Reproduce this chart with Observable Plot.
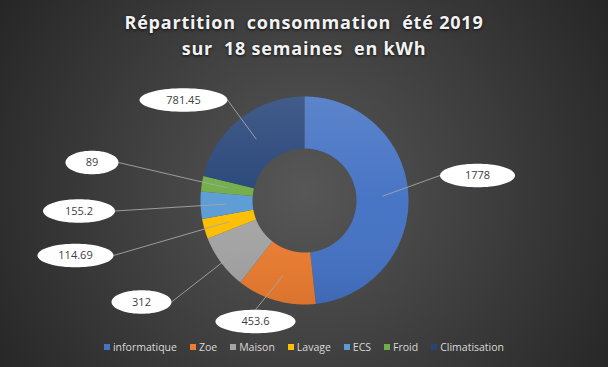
<!DOCTYPE html>
<html><head><meta charset="utf-8">
<script src="https://cdn.jsdelivr.net/npm/d3@7"></script>
<script src="https://cdn.jsdelivr.net/npm/@observablehq/plot@0.6"></script>
<style>
html,body{margin:0;padding:0;background:#262626;}
#wrap{position:relative;width:608px;height:367px;overflow:hidden;background:radial-gradient(circle farthest-corner at 50% 52%, #575757 0%, #262626 100%);font-family:"Open Sans",sans-serif;}
#chart{position:absolute;left:0;top:0;}
#title{position:absolute;left:0;top:9px;width:608px;text-align:center;color:#f2f2f2;font-weight:700;font-size:18px;line-height:26px;white-space:pre;letter-spacing:0.8px;text-shadow:0 1px 3px rgba(0,0,0,0.8);}
#legend{position:absolute;left:0;top:339px;width:608px;height:16px;display:flex;justify-content:center;align-items:center;gap:13px;color:#d9d9d9;font-size:10.5px;}
.item{display:flex;align-items:center;gap:3px;}
.sw{width:6px;height:6px;display:inline-block;}
</style></head><body>
<div id="wrap"><div id="chart"></div><div id="title"></div><div id="legend"></div></div>
<script>
// ---- data ----
const categories = ["informatique", "Zoe", "Maison", "Lavage", "ECS", "Froid", "Climatisation"];
const values = [1778, 453.6, 312, 114.69, 155.2, 89, 781.45];
const valueLabels = ["1778", "453.6", "312", "114.69", "155.2", "89", "781.45"];
const colors = ["#4472C4", "#ED7D31", "#A5A5A5", "#FFC000", "#5B9BD5", "#70AD47", "#264478"];
const titleLines = ["Répartition  consommation  été 2019", "sur  18 semaines  en kWh"];

// ---- layout ----
const W = 608, H = 367, CX = 304, CY = 200, R = 104, INNER = 0.5;
// label box centres as pixel offsets from the donut centre (y up), ellipse half-widths in px
const labelLayout = [
  {dx: 173, dy: 25, rx: 37.5},
  {dx: -49, dy: -121, rx: 40},
  {dx: -163, dy: -101.5, rx: 30},
  {dx: -229, dy: -55, rx: 38},
  {dx: -225.5, dy: -10.5, rx: 36},
  {dx: -212.5, dy: 38, rx: 26.5},
  {dx: -121, dy: 100.5, rx: 44}
];
const RY = 11.8;

const data = categories.map((name, i) => ({name, value: values[i], label: valueLabels[i]}));
const arcs = d3.pie().sort(null).value(d => d.value)(data);

const slicePts = [];
for (const a of arcs) {
  const n = Math.max(4, Math.ceil((a.endAngle - a.startAngle) / 0.01));
  for (let k = 0; k <= n; k++) {
    const t = a.startAngle + (a.endAngle - a.startAngle) * k / n;
    slicePts.push({name: a.data.name, x: Math.sin(t), y: Math.cos(t)});
  }
  for (let k = n; k >= 0; k--) {
    const t = a.startAngle + (a.endAngle - a.startAngle) * k / n;
    slicePts.push({name: a.data.name, x: INNER * Math.sin(t), y: INNER * Math.cos(t)});
  }
}

const labels = arcs.map((a, i) => {
  const L = labelLayout[i];
  const mid = (a.startAngle + a.endAngle) / 2;
  const sx = 0.75 * Math.sin(mid), sy = 0.75 * Math.cos(mid);
  const lx = L.dx / R, ly = L.dy / R, rx = L.rx / R, ry = RY / R;
  const vx = sx - lx, vy = sy - ly;
  let ex, ey;
  if (Math.abs(vx) > Math.abs(vy)) { ex = lx + Math.sign(vx) * rx; ey = ly; }
  else { ex = lx; ey = ly + Math.sign(vy) * ry; }
  return {label: a.data.label, lx, ly, rx, ry, sx, sy, ex, ey};
});

const ellipsePts = [];
for (const l of labels) {
  for (let k = 0; k <= 72; k++) {
    const t = 2 * Math.PI * k / 72;
    ellipsePts.push({label: l.label, x: l.lx + l.rx * Math.cos(t), y: l.ly + l.ry * Math.sin(t)});
  }
}

const plot = Plot.plot({
  width: W, height: H,
  marginTop: 0, marginRight: 0, marginBottom: 0, marginLeft: 0,
  x: {domain: [-CX / R, (W - CX) / R], range: [0, W], axis: null},
  y: {domain: [-(H - CY) / R, CY / R], range: [H, 0], axis: null},
  color: {domain: categories, range: colors},
  style: {background: "transparent", overflow: "visible"},
  marks: [
    Plot.line(slicePts, {x: "x", y: "y", z: "name", fill: "name", stroke: "none"}),
    Plot.line(slicePts, {x: "x", y: "y", z: "name", fill: "url(#shade)", stroke: "none"}),
    Plot.link(labels, {x1: "sx", y1: "sy", x2: "ex", y2: "ey", stroke: "#a6a6a6", strokeWidth: 0.9}),
    Plot.line(ellipsePts, {x: "x", y: "y", z: "label", fill: "#ffffff", stroke: "none"}),
    Plot.text(labels, {x: "lx", y: "ly", text: "label", fill: "#404040", fontSize: 11, fontFamily: "Open Sans"})
  ]
});

// vertical shading of the ring, like the reference's gradient fills
const ys = plot.scale("y");
const grad = d3.select(plot).insert("defs", ":first-child")
  .append("linearGradient").attr("id", "shade").attr("gradientUnits", "userSpaceOnUse")
  .attr("x1", 0).attr("x2", 0).attr("y1", ys.apply(1)).attr("y2", ys.apply(-1));
grad.append("stop").attr("offset", 0).attr("stop-color", "#ffffff").attr("stop-opacity", 0.13);
grad.append("stop").attr("offset", 0.5).attr("stop-color", "#ffffff").attr("stop-opacity", 0.02);
grad.append("stop").attr("offset", 1).attr("stop-color", "#000000").attr("stop-opacity", 0.08);

document.getElementById("chart").appendChild(plot);

document.getElementById("title").textContent = titleLines.join("\n");

const legend = document.getElementById("legend");
categories.forEach((c, i) => {
  const item = document.createElement("span");
  item.className = "item";
  const sw = document.createElement("span");
  sw.className = "sw";
  sw.style.background = plot.scale("color").apply(c);
  const tx = document.createElement("span");
  tx.textContent = c;
  item.appendChild(sw); item.appendChild(tx);
  legend.appendChild(item);
});
</script>
</body></html>
